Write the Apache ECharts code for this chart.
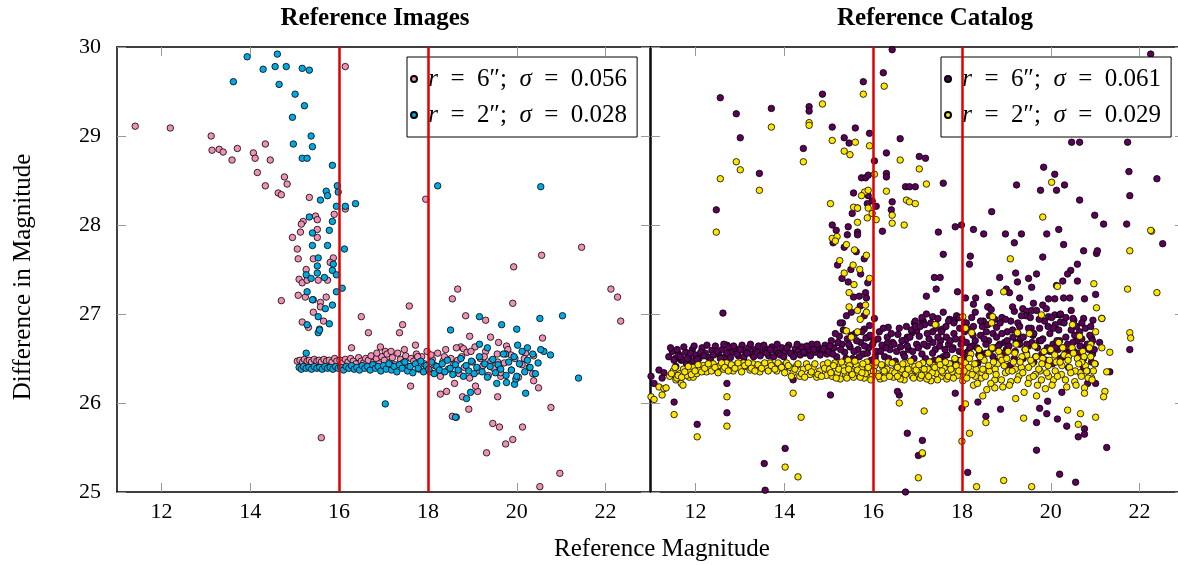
<!DOCTYPE html>
<html lang="en">
<head>
<meta charset="UTF-8">
<title>Magnitude comparison</title>
<script src="https://cdn.jsdelivr.net/npm/echarts@6/dist/echarts.min.js"></script>
<style>
  * {padding: 0; margin: 0;}
  body {background: #fff;}
  #main {width: 1178px; height: 565px;}
</style>
</head>
<body>
<div id="main"></div>
<script>
// tick labels and cut lines
const xTicks = [12, 14, 16, 18, 20, 22];
const cutMags = [16, 18];

// Reference Images, r = 6"
const imgR6 = [
  [11.41,29.11],[12.20,29.09],[13.12,29.00],[13.14,28.84],[13.30,28.85],[13.39,28.82],[13.71,28.86],[13.59,28.73],
  [14.07,28.81],[14.11,28.75],[14.34,28.91],[14.45,28.73],[14.16,28.59],[14.34,28.44],[14.77,28.54],[14.83,28.46],
  [14.63,28.36],[14.70,28.34],[15.33,28.31],[16.14,29.78],[16.14,28.18],[15.89,28.12],[15.47,28.10],[15.51,28.06],
  [15.19,28.04],[15.15,28.01],[15.13,27.92],[15.51,27.95],[15.51,27.86],[14.95,27.86],[15.06,27.73],[15.08,27.62],
  [15.42,27.62],[15.26,27.50],[15.10,27.39],[15.17,27.35],[15.28,27.38],[15.53,27.38],[15.74,27.38],[15.87,27.63],
  [15.80,27.58],[15.08,27.21],[15.24,27.19],[15.42,27.16],[15.58,27.13],[15.71,27.19],[14.70,27.15],[15.58,27.08],
  [15.42,27.02],[15.65,26.92],[15.17,26.91],[15.31,26.85],[15.56,26.83],[15.60,25.61],[16.50,26.97],[16.66,26.79],
  [17.58,27.09],[17.43,26.88],[17.36,26.79],[16.28,26.62],[16.93,26.63],[17.04,26.58],[17.72,26.65],[18.67,27.28],
  [18.55,27.17],[18.85,26.98],[19.30,26.93],[19.93,27.53],[20.56,27.66],[21.46,27.75],[19.91,27.12],[22.12,27.28],
  [22.27,27.19],[22.34,26.92],[19.41,26.74],[19.59,26.68],[19.77,26.64],[18.94,26.75],[18.74,26.63],[18.80,26.61],
  [20.58,26.73],[20.38,26.53],[20.49,26.17],[20.38,26.25],[20.77,25.95],[17.61,26.19],[18.28,26.10],[18.42,26.13],
  [18.60,26.22],[18.55,25.85],[18.64,25.84],[18.78,26.07],[19.12,26.13],[19.07,26.19],[18.92,25.93],[19.57,26.07],
  [19.46,25.77],[19.61,25.73],[19.32,25.44],[19.75,25.54],[19.91,25.59],[20.13,25.73],[20.52,25.06],[20.97,25.21],
  [19.64,26.30],[19.59,26.41],[17.95,28.29],
  [15.06,26.47],[15.12,26.48],[15.18,26.46],[15.22,26.49],[15.28,26.47],[15.33,26.48],[15.38,26.46],[15.44,26.49],
  [15.50,26.47],[15.55,26.48],[15.60,26.46],[15.66,26.49],[15.72,26.47],[15.78,26.48],[15.84,26.46],[15.90,26.50],
  [15.95,26.47],[16.02,26.48],[16.08,26.45],[16.14,26.49],[16.20,26.46],[16.26,26.50],[16.32,26.47],[16.38,26.44],
  [16.44,26.51],[16.50,26.47],[16.55,26.45],[16.60,26.50],[16.66,26.48],[16.72,26.53],[16.78,26.46],[16.84,26.50],
  [16.90,26.44],[16.96,26.52],[17.02,26.48],[17.08,26.55],[17.14,26.46],[17.20,26.51],[17.26,26.43],[17.32,26.56],
  [17.38,26.49],[17.44,26.45],[17.50,26.53],[17.56,26.41],[17.62,26.50],[17.68,26.47],[17.74,26.55],[17.80,26.38],
  [17.86,26.52],[17.92,26.44],[17.98,26.58],[18.04,26.35],[18.10,26.49],[18.16,26.42],[18.22,26.56],[18.28,26.30],
  [18.34,26.47],[18.40,26.60],[18.46,26.38],[18.52,26.50],[18.58,26.43],[18.64,26.62],[18.70,26.33],[18.76,26.52],
  [18.82,26.40],[18.88,26.57],[18.94,26.28],[19.00,26.46],[19.06,26.63],[19.12,26.36],[19.18,26.50],[19.24,26.42],
  [19.30,26.58],[19.36,26.31],[19.42,26.47],[19.48,26.39],[19.56,26.55],[19.64,26.34],[19.72,26.45],[19.80,26.60],
  [19.88,26.37],[19.96,26.50],[20.04,26.29],[20.12,26.43],[20.20,26.56],[20.28,26.40],[20.36,26.33],
  [16.85,26.56],[17.17,26.58],[17.47,26.60],[17.77,26.52],[18.07,26.54],[18.37,26.52],[18.67,26.48],[18.97,26.58],
  [19.27,26.52],[19.57,26.46],[19.87,26.54],[20.17,26.50]
];

// Reference Images, r = 2"
const imgR2 = [
  [13.93,29.89],[14.61,29.92],[14.29,29.75],[14.56,29.78],[14.81,29.78],[15.17,29.76],[15.33,29.74],[13.62,29.61],
  [14.65,29.58],[15.01,29.47],[15.22,29.34],[14.95,29.21],[15.37,29.00],[14.97,28.91],[15.40,28.88],[15.17,28.75],
  [15.28,28.75],[15.85,28.67],[15.96,28.44],[15.98,28.37],[15.71,28.38],[15.74,28.33],[15.58,28.28],[15.94,28.21],
  [16.14,28.21],[16.37,28.24],[15.33,28.09],[15.85,28.04],[15.78,27.94],[15.40,27.91],[15.40,27.77],[15.74,27.77],
  [16.12,27.73],[15.53,27.63],[15.51,27.54],[15.87,27.56],[15.26,27.44],[15.51,27.46],[15.85,27.49],[15.37,27.40],
  [15.67,27.41],[15.94,27.44],[15.28,27.25],[15.40,27.16],[15.94,27.25],[16.07,27.29],[15.69,27.06],[15.85,27.10],
  [15.53,26.97],[15.78,26.89],[15.28,26.88],[15.53,26.79],[15.56,26.82],[17.04,25.99],[15.26,26.56],[18.51,26.82],
  [19.16,26.97],[19.66,26.88],[20.00,26.83],[20.52,26.95],[21.03,26.98],[19.16,26.66],[19.34,26.62],[20.02,26.65],
  [20.24,26.62],[20.61,26.58],[20.76,26.54],[19.75,26.55],[21.39,26.28],[20.20,26.11],[18.62,25.84],[18.87,26.05],
  [18.96,26.12],[19.55,26.22],[19.77,26.23],[19.95,26.21],[19.98,26.27],[18.22,28.44],[20.54,28.43],
  [15.10,26.40],[15.15,26.38],[15.20,26.41],[15.26,26.39],[15.32,26.40],[15.38,26.38],[15.44,26.41],[15.50,26.39],
  [15.56,26.40],[15.62,26.38],[15.68,26.41],[15.74,26.39],[15.80,26.40],[15.86,26.38],[15.92,26.41],[15.98,26.39],
  [16.04,26.40],[16.10,26.37],[16.16,26.41],[16.22,26.39],[16.28,26.42],[16.34,26.38],[16.40,26.40],[16.46,26.37],
  [16.52,26.42],[16.58,26.39],[16.64,26.41],[16.70,26.37],[16.76,26.43],[16.82,26.39],[16.88,26.41],[16.94,26.36],
  [17.00,26.42],[17.06,26.38],[17.12,26.44],[17.18,26.37],[17.24,26.41],[17.30,26.35],[17.36,26.43],[17.42,26.39],
  [17.48,26.46],[17.54,26.36],[17.60,26.41],[17.66,26.34],[17.72,26.44],[17.78,26.39],[17.84,26.47],[17.90,26.35],
  [17.96,26.42],[18.02,26.38],[18.08,26.46],[18.14,26.33],[18.20,26.41],[18.26,26.37],[18.32,26.44],[18.38,26.35],
  [18.44,26.48],[18.50,26.39],[18.56,26.32],[18.62,26.43],[18.68,26.37],[18.74,26.50],[18.80,26.30],[18.86,26.42],
  [18.92,26.36],[18.98,26.47],[19.04,26.33],[19.10,26.40],[19.16,26.52],[19.22,26.35],[19.28,26.44],[19.34,26.29],
  [19.40,26.41],[19.46,26.49],[19.52,26.34],[19.58,26.43],[19.64,26.38],[19.70,26.55],[19.76,26.31],[19.82,26.46],
  [19.88,26.37],[19.94,26.52],[20.00,26.30],[20.06,26.44],[20.12,26.58],[20.18,26.35],[20.24,26.48],[20.30,26.40],
  [20.36,26.55],[20.42,26.33],[20.48,26.45],[20.54,26.60]
];

// Reference Catalog, r = 6": scattered stars
const catR6 = [
  [12.56,29.43],[12.92,29.25],[13.01,28.98],[13.71,29.31],[13.44,28.58],[12.47,28.17],[14.43,28.86],[14.56,29.33],
  [14.56,29.28],[14.86,29.47],[15.08,29.10],[15.35,28.98],[15.46,28.92],[15.60,29.09],[15.78,29.61],[15.92,29.03],
  [16.03,28.72],[16.23,29.71],[16.43,29.97],[16.61,28.97],[16.30,28.81],[15.74,28.53],[15.83,28.53],[15.89,28.56],
  [16.30,28.58],[16.30,28.54],[15.56,28.36],[15.89,28.33],[15.98,28.27],[15.87,28.24],[16.07,28.21],[15.65,28.19],
  [15.53,28.13],[16.43,28.26],[16.41,28.17],[16.73,28.43],[16.82,28.43],[16.95,28.43],[17.04,28.77],[17.18,28.75],
  [17.58,28.47],[17.47,27.92],[16.21,27.93],[15.08,28.00],[15.17,27.94],[15.44,27.98],[15.42,27.89],[15.65,27.92],
  [15.65,27.89],[22.25,29.92],[17.85,27.98],[17.99,28.00],[18.26,27.95],[18.49,27.90],[18.67,28.15],[18.98,27.90],
  [19.34,27.90],[19.23,28.45],[19.84,28.65],[20.09,28.57],[19.77,28.39],[20.13,28.39],[20.31,28.45],[19.91,27.90],
  [20.18,27.95],[20.65,28.28],[20.47,28.93],[20.65,28.93],[21.73,28.93],[21.76,28.60],[21.78,28.33],[22.39,28.52],
  [20.99,28.11],[21.19,28.01],[21.71,28.01],
  [11.00,26.30],[11.07,26.22],[11.18,26.37],[11.29,26.34],[11.25,26.28],[11.56,26.41],[11.68,26.48],[11.79,26.45],
  [11.90,26.46],[11.95,26.47],[11.52,26.01],[12.04,25.76],[12.62,27.01],[12.71,26.65],[12.71,26.22],[12.71,25.89],
  [13.55,25.32],[14.02,25.49],[13.57,25.02],[14.20,26.26],[15.04,26.09],[15.44,27.36],[15.56,27.19],[15.69,27.20],
  [15.83,27.24],[15.85,27.18],[15.40,26.98],[15.51,27.02],[15.31,26.90],[15.26,26.90],[15.71,27.09],[15.80,26.98],
  [15.92,26.87],[15.80,26.83],[16.03,26.95],[15.89,26.74],[16.34,26.85],[16.75,26.86],[16.93,26.90],[16.98,26.81],
  [17.11,26.92],[17.34,26.97],[17.20,27.20],[17.42,27.28],[17.56,26.83],[16.59,26.09],[16.55,26.13],[16.77,25.66],
  [17.11,25.58],[17.02,25.41],[16.73,25.00],[16.32,26.67],[16.77,26.74],[16.88,26.79],
  [15.10,27.80],[15.35,27.75],[15.62,27.70],[15.80,27.62],[15.20,27.55],[15.50,27.50],[15.72,27.45],[15.30,27.40],[15.88,27.35],
  [19.18,27.80],[20.29,27.78],[20.74,27.71],[21.03,27.68],[21.05,27.71],[22.52,27.79],[17.58,27.67],[18.19,27.65],
  [18.17,27.56],[19.82,27.64],[20.60,27.56],[20.45,27.49],[20.38,27.45],[20.27,27.37],[20.13,27.32],[20.60,27.37],
  [17.38,27.41],[17.51,27.41],[18.85,27.41],[19.21,27.46],[19.25,27.36],[19.50,27.40],[19.68,27.45],[17.90,27.25],
  [18.08,27.18],[18.31,27.18],[18.26,27.11],[18.62,27.24],[18.60,27.08],[19.00,27.28],[19.07,27.24],[19.30,27.18],
  [19.57,27.30],[19.61,27.12],[19.82,27.10],[19.95,27.17],[20.09,27.17],[20.29,27.18],[20.43,27.18],[20.76,27.17],
  [21.01,27.22],[19.37,27.06],[19.46,27.03],[19.57,27.04],[19.95,26.97],[20.09,26.99],[19.18,27.03],[18.58,27.08],
  [20.52,26.93],[20.74,26.95],[20.95,26.93],[21.15,26.95],[20.22,26.91],[20.20,26.99],[16.95,26.92],[17.13,26.92],
  [17.72,26.94],[17.85,26.94],[20.92,26.73],[20.90,26.66],[21.10,26.68],[20.92,26.46],[20.74,26.40],[21.33,26.35],
  [21.78,26.60],[20.83,26.22],[21.01,26.22],[20.25,26.12],[19.93,26.02],[19.75,25.94],[19.91,25.88],[19.68,25.78],
  [20.15,25.82],[20.36,25.74],[20.62,25.62],[20.76,25.71],[20.76,25.65],[21.26,25.50],[19.68,25.47],[20.20,25.20],
  [20.56,25.11],[18.00,25.94],[18.36,26.01],[18.54,25.85],[18.87,25.93],[17.85,26.11],[18.13,25.22]
];

// Reference Catalog, r = 6": the dense locus
const catR6Band = [
  [11.40,26.52],[11.48,26.58],[11.55,26.50],[11.62,26.55],[11.70,26.49],[11.78,26.57],[11.85,26.52],[11.93,26.60],
  [12.00,26.54],[12.08,26.50],[12.15,26.62],[12.22,26.56],[12.30,26.51],[12.37,26.59],[12.45,26.64],[12.52,26.55],
  [12.60,26.60],[12.67,26.52],[12.75,26.63],[12.82,26.57],[12.90,26.61],[12.97,26.53],[13.05,26.65],[13.12,26.58],
  [13.20,26.62],[13.27,26.55],[13.35,26.60],[13.42,26.64],[13.50,26.57],[13.57,26.61],[13.65,26.53],[13.72,26.63],
  [13.80,26.59],[13.87,26.56],[13.95,26.62],[14.02,26.58],[14.10,26.65],[14.17,26.55],[14.25,26.61],[14.32,26.58],
  [14.40,26.63],[14.47,26.56],[14.55,26.60],[14.62,26.66],[14.70,26.57],[14.77,26.62],[14.85,26.59],[14.92,26.65],
  [11.44,26.62],[11.52,26.48],[11.59,26.60],[11.66,26.52],[11.74,26.63],[11.82,26.50],[11.89,26.56],[11.97,26.64],
  [12.04,26.49],[12.12,26.57],[12.19,26.53],[12.26,26.65],[12.34,26.48],[12.41,26.54],[12.49,26.58],[12.56,26.50],
  [12.64,26.66],[12.71,26.56],[12.79,26.51],[12.86,26.64],[12.94,26.55],[13.01,26.60],[13.09,26.51],[13.16,26.56],
  [13.24,26.66],[13.31,26.52],[13.39,26.57],[13.46,26.53],[13.54,26.65],[13.61,26.56],[13.69,26.60],[13.76,26.52],
  [13.84,26.66],[13.91,26.54],[13.99,26.52],[14.06,26.62],[14.14,26.56],[14.21,26.52],[14.29,26.66],[14.36,26.54],
  [14.44,26.57],[14.51,26.64],[14.59,26.53],[14.66,26.60],[14.74,26.66],[14.81,26.54],[14.89,26.61],[14.96,26.55],
  [15.00,26.58],[15.06,26.70],[15.12,26.62],[15.18,26.52],[15.24,26.75],[15.30,26.66],[15.36,26.57],[15.42,26.72],
  [15.48,26.63],[15.54,26.50],[15.60,26.78],[15.66,26.60],[15.72,26.68],[15.78,26.55],[15.84,26.73],[15.90,26.62],
  [15.96,26.48],[16.02,26.70],[16.08,26.58],[16.14,26.80],[16.20,26.65],[16.26,26.52],[16.32,26.74],[16.38,26.60],
  [16.44,26.68],[16.50,26.47],[16.56,26.77],[16.62,26.63],[16.68,26.55],[16.74,26.71],[16.80,26.60],[16.86,26.82],
  [16.92,26.50],[16.98,26.66],
  [15.03,26.64],[15.09,26.55],[15.15,26.78],[15.21,26.68],[15.27,26.60],[15.33,26.82],[15.39,26.50],[15.45,26.66],
  [15.51,26.76],[15.57,26.58],[15.63,26.70],[15.69,26.52],[15.75,26.80],[15.81,26.64],[15.87,26.56],[15.93,26.76],
  [15.99,26.66],[16.05,26.52],[16.11,26.72],[16.17,26.58],[16.23,26.84],[16.29,26.62],[16.35,26.50],[16.41,26.78],
  [16.47,26.66],[16.53,26.58],[16.59,26.84],[16.65,26.70],[16.71,26.52],[16.77,26.64],[16.83,26.74],[16.89,26.58],
  [16.95,26.86],
  [17.04,26.75],[17.10,26.55],[17.16,26.88],[17.22,26.64],[17.28,26.46],[17.34,26.80],[17.40,26.60],[17.46,26.95],
  [17.52,26.70],[17.58,26.52],[17.64,26.86],[17.70,26.66],[17.76,26.44],[17.82,26.78],[17.88,26.98],[17.94,26.58],
  [18.00,26.72],[18.06,26.90],[18.12,26.50],[18.18,26.83],[18.24,26.64],[18.30,27.02],[18.36,26.45],[18.42,26.76],
  [18.48,26.92],[18.54,26.56],[18.60,26.70],[18.66,27.05],[18.72,26.62],[18.78,26.85],[18.84,26.48],[18.90,26.96],
  [18.96,26.68],[19.02,26.80],[19.08,26.42],[19.14,27.08],[19.20,26.58],[19.26,26.90],[19.32,26.72],[19.38,26.50],
  [19.44,26.98],[19.50,26.64],[19.56,26.84],[19.62,26.46],[19.68,27.04],[19.74,26.70],[19.80,26.55],[19.86,26.92],
  [19.92,26.62],[19.98,26.78],[20.04,26.44],[20.10,26.88],[20.16,26.60],[20.22,27.00],[20.28,26.52],[20.34,26.74],
  [20.40,26.40],[20.46,26.82],[20.52,26.58],[20.58,26.70],[20.64,26.48],[20.70,26.90],[20.76,26.62],[20.82,26.36],
  [20.88,26.76],[20.94,26.55],[21.00,26.44],
  [17.20,27.00],[17.50,26.50],[17.80,26.62],[18.10,26.68],[18.40,26.58],[18.70,26.78],[19.00,26.60],[19.30,26.66],
  [19.60,26.76],[19.90,26.48],[20.20,26.70],[20.50,26.95],[17.35,26.68],[17.65,26.74],[17.95,26.84],[18.25,26.76],
  [18.55,26.80],[18.85,26.66],[19.15,26.74],[19.45,26.56],[19.75,26.84],[20.05,26.66],[20.35,26.58],[20.65,26.80],
  [17.02,26.62],[17.10,26.96],[17.18,26.50],[17.26,26.72],[17.34,26.56],[17.42,26.84],[17.50,26.64],[17.58,27.02],
  [17.66,26.54],[17.74,26.70],[17.82,26.90],[17.90,26.48],[17.98,26.66],[18.06,26.80],[18.14,26.58],[18.22,26.96],
  [18.30,26.70],[18.38,26.54],[18.46,26.86],[18.54,26.66],[18.62,26.98],[18.70,26.52],[18.78,26.74],[18.86,26.90],
  [18.94,26.56],[19.02,26.70],[19.10,26.92],[19.18,26.50],[19.26,26.78],[19.34,26.98],[19.42,26.60],[19.50,26.84],
  [19.58,26.68],[19.66,26.52],[19.74,26.94],[19.82,26.72],[19.90,27.06],[19.98,26.58],[20.06,26.84],[20.14,26.70],
  [20.22,26.50],[20.30,26.90],[20.38,26.66],[20.46,27.04],[20.54,26.76],[20.62,26.56],[20.70,26.72],[20.78,26.84],
  [20.86,26.60],[20.94,26.70],
  [17.06,26.86],[17.14,26.66],[17.22,26.78],[17.30,26.90],[17.38,26.48],[17.46,26.74],[17.54,26.80],[17.62,26.60],
  [17.70,26.92],[17.78,26.60],[17.86,26.72],[17.94,26.96],[18.02,26.56],[18.10,26.90],[18.18,26.62],[18.26,26.86],
  [18.34,26.62],[18.42,26.92],[18.50,26.72],[18.58,26.88],[18.66,26.60],[18.74,26.94],[18.82,26.64],[18.90,26.78],
  [18.98,26.94],[19.06,26.64],[19.14,26.82],[19.22,26.68],[19.30,26.86],[19.38,26.74],[19.46,26.66],[19.54,26.96],
  [19.62,26.78],[19.70,26.62],[19.78,26.70],[19.86,26.58],[19.94,26.86],[20.02,26.96],[20.10,26.62],[20.18,26.82],
  [20.26,26.62],[20.34,26.96],[20.42,26.56],[20.50,26.68],[20.58,26.86],[20.66,26.64],[20.74,26.50],[20.82,26.66],
  [20.90,26.86],[20.98,26.60]
];

// Reference Catalog, r = 2": scattered stars
const catR2 = [
  [12.56,28.52],[12.47,27.92],[12.92,28.71],[13.01,28.62],[13.44,28.39],[13.71,29.10],[14.43,28.71],[14.56,29.15],
  [14.56,29.12],[14.86,29.36],[15.08,28.95],[15.35,28.83],[15.48,28.79],[15.60,28.93],[15.78,29.47],[15.92,28.89],
  [16.25,29.56],[16.03,28.57],[16.61,28.73],[17.04,28.63],[17.20,28.46],[16.75,28.28],[16.82,28.26],[16.95,28.24],
  [16.70,28.00],[16.30,28.38],[16.43,28.11],[16.43,28.02],[15.81,28.37],[15.89,28.39],[15.74,28.33],[15.56,28.20],
  [15.65,28.19],[15.89,28.19],[15.98,28.13],[15.04,28.24],[15.65,28.03],[15.87,28.08],[16.07,28.06],[15.08,27.85],
  [15.19,27.87],[20.02,28.48],[19.82,28.09],[22.27,27.93],
  [15.15,27.82],[15.40,27.78],[15.58,27.72],[15.85,27.66],[15.25,27.60],[15.55,27.55],[15.70,27.50],[15.35,27.46],[15.92,27.40],
  [11.00,26.07],[11.07,26.04],[11.18,26.18],[11.29,26.16],[11.34,26.17],[11.25,26.09],[11.52,25.87],[11.56,26.26],
  [11.68,26.22],[11.72,26.20],[11.86,26.29],[11.95,26.29],[12.04,25.62],[12.71,26.07],[12.71,25.74],[14.02,25.28],
  [14.31,25.17],[14.20,26.11],[14.38,25.84],[15.46,27.24],[15.57,27.33],[15.46,27.08],[15.65,27.04],[15.71,26.94],
  [15.85,27.02],[15.83,27.10],[15.40,26.81],[15.65,26.80],[15.51,26.74],[16.59,26.00],[17.15,25.91],[17.11,25.43],
  [17.02,25.16],[17.42,26.88],
  [22.25,27.94],[21.78,27.71],[19.09,27.62],[20.97,27.34],[20.15,27.31],[18.94,27.25],[21.73,27.28],[22.39,27.24],
  [21.03,27.07],[18.69,26.97],[18.67,26.90],[19.79,26.99],[17.40,26.88],[18.22,26.79],[18.02,26.97],[18.08,26.84],
  [19.52,26.78],[19.25,26.79],[20.49,26.88],[20.65,26.75],[21.01,26.80],[21.15,26.95],[21.33,26.57],[21.78,26.79],
  [21.80,26.73],[20.90,26.66],[21.15,26.62],[21.26,26.35],[20.92,26.28],[21.22,26.13],[21.19,26.07],[20.76,26.17],
  [20.76,26.11],[20.38,25.92],[20.67,25.88],[20.62,25.76],[21.01,25.84],[19.39,25.83],[18.54,25.78],[18.17,25.66],
  [18.00,25.57],[17.11,25.44],[18.33,25.06],[18.94,25.13],[19.57,25.06],[18.47,26.08],[18.74,26.17],[19.21,26.05],
  [19.68,26.08],[18.08,25.99]
];

// Reference Catalog, r = 2": the dense locus
const catR2Band = [
  [11.42,26.30],[11.50,26.36],[11.58,26.28],[11.65,26.33],[11.73,26.38],[11.80,26.31],[11.88,26.36],[11.95,26.40],
  [12.03,26.33],[12.10,26.38],[12.18,26.42],[12.25,26.35],[12.33,26.40],[12.40,26.44],[12.48,26.37],[12.55,26.42],
  [12.63,26.38],[12.70,26.45],[12.78,26.40],[12.85,26.36],[12.93,26.43],[13.00,26.39],[13.08,26.45],[13.15,26.41],
  [13.23,26.37],[13.30,26.44],[13.38,26.40],[13.45,26.35],[13.53,26.43],[13.60,26.39],[13.68,26.45],[13.75,26.41],
  [13.83,26.36],[13.90,26.43],[13.98,26.38],[14.05,26.45],[14.13,26.40],[14.20,26.34],[14.28,26.42],[14.35,26.30],
  [14.43,26.38],[14.50,26.44],[14.58,26.32],[14.65,26.40],[14.73,26.29],[14.80,26.36],[14.88,26.43],[14.95,26.31],
  [11.46,26.33],[11.54,26.40],[11.61,26.31],[11.69,26.29],[11.76,26.35],[11.84,26.41],[11.91,26.32],[11.99,26.36],
  [12.06,26.43],[12.14,26.35],[12.21,26.39],[12.29,26.44],[12.36,26.36],[12.44,26.40],[12.51,26.34],[12.59,26.45],
  [12.66,26.40],[12.74,26.36],[12.81,26.43],[12.89,26.39],[12.96,26.45],[13.04,26.35],[13.11,26.42],[13.19,26.45],
  [13.26,26.39],[13.34,26.36],[13.41,26.43],[13.49,26.39],[13.56,26.45],[13.64,26.36],[13.71,26.42],[13.79,26.38],
  [13.86,26.45],[13.94,26.40],[14.01,26.34],[14.09,26.42],[14.16,26.30],[14.24,26.38],[14.31,26.44],[14.39,26.33],
  [14.46,26.29],[14.54,26.40],[14.61,26.35],[14.69,26.44],[14.76,26.32],[14.84,26.30],[14.91,26.39],[14.98,26.45],
  [15.02,26.38],[15.08,26.30],[15.14,26.45],[15.20,26.34],[15.26,26.27],[15.32,26.41],[15.38,26.32],[15.44,26.48],
  [15.50,26.36],[15.56,26.29],[15.62,26.43],[15.68,26.33],[15.74,26.39],[15.80,26.28],[15.86,26.46],[15.92,26.35],
  [15.98,26.30],[16.04,26.42],[16.10,26.33],[16.16,26.27],[16.22,26.40],[16.28,26.31],[16.34,26.46],[16.40,26.36],
  [16.46,26.29],[16.52,26.42],[16.58,26.33],[16.64,26.38],[16.70,26.26],[16.76,26.44],[16.82,26.34],[16.88,26.30],
  [16.94,26.41],[17.00,26.35],[17.06,26.28],[17.12,26.45],[17.18,26.32],[17.24,26.38],[17.30,26.25],[17.36,26.42],
  [17.42,26.33],[17.48,26.48],[17.54,26.30],[17.60,26.39],[17.66,26.27],[17.72,26.44],[17.78,26.35],[17.84,26.50],
  [17.90,26.31],[17.96,26.40],
  [15.05,26.34],[15.11,26.42],[15.17,26.28],[15.23,26.38],[15.29,26.46],[15.35,26.36],[15.41,26.28],[15.47,26.42],
  [15.53,26.32],[15.59,26.47],[15.65,26.37],[15.71,26.29],[15.77,26.44],[15.83,26.33],[15.89,26.40],[15.95,26.26],
  [16.01,26.36],[16.07,26.46],[16.13,26.30],[16.19,26.43],[16.25,26.28],[16.31,26.38],[16.37,26.30],[16.43,26.45],
  [16.49,26.34],[16.55,26.40],[16.61,26.27],[16.67,26.44],[16.73,26.32],[16.79,26.38],[16.85,26.47],[16.91,26.28],
  [16.97,26.37],[17.03,26.43],[17.09,26.31],[17.15,26.38],[17.21,26.27],[17.27,26.46],[17.33,26.34],[17.39,26.40],
  [17.45,26.26],[17.51,26.43],[17.57,26.34],[17.63,26.46],[17.69,26.30],[17.75,26.38],[17.81,26.28],[17.87,26.42],
  [17.93,26.36],[17.99,26.48],
  [18.02,26.25],[18.08,26.45],[18.14,26.33],[18.20,26.55],[18.26,26.20],[18.32,26.38],[18.38,26.60],[18.44,26.28],
  [18.50,26.48],[18.56,26.15],[18.62,26.36],[18.68,26.62],[18.74,26.26],[18.80,26.44],[18.86,26.52],[18.92,26.18],
  [18.98,26.34],[19.04,26.58],[19.10,26.24],[19.16,26.46],[19.22,26.66],[19.28,26.30],[19.34,26.40],[19.40,26.12],
  [19.46,26.54],[19.52,26.28],[19.58,26.44],[19.64,26.64],[19.70,26.20],[19.76,26.36],[19.82,26.50],[19.88,26.16],
  [19.94,26.42],[20.00,26.60],[20.06,26.26],[20.12,26.46],[20.18,26.68],[20.24,26.32],[20.30,26.54],[20.36,26.18],
  [20.42,26.40],[20.48,26.62],[20.54,26.24],[20.60,26.50],[20.66,26.34],[20.72,26.58],[20.78,26.42],[20.84,26.28],
  [20.90,26.52],[20.96,26.36],
  [18.15,26.40],[18.45,26.34],[18.75,26.38],[19.05,26.36],[19.35,26.52],[19.65,26.32],[19.95,26.30],[20.25,26.42],
  [20.55,26.36],[18.30,26.30],[18.60,26.42],[18.90,26.48],[19.20,26.38],[19.50,26.40],[19.80,26.44],[20.10,26.36],
  [20.40,26.52],[20.70,26.46],[17.25,26.30],[17.55,26.36],[16.25,26.36],[16.55,26.30],[15.75,26.34],[15.45,26.38],
  [18.05,26.36],[18.11,26.28],[18.17,26.50],[18.23,26.32],[18.29,26.44],[18.35,26.22],[18.41,26.52],[18.47,26.38],
  [18.53,26.30],[18.59,26.56],[18.65,26.22],[18.71,26.46],[18.77,26.32],[18.83,26.58],[18.89,26.26],[18.95,26.42],
  [19.01,26.50],[19.07,26.20],[19.13,26.36],[19.19,26.56],[19.25,26.26],[19.31,26.46],[19.37,26.34],[19.43,26.60],
  [19.49,26.22],[19.55,26.48],[19.61,26.30],[19.67,26.52],[19.73,26.38],[19.79,26.26],[19.85,26.58],[19.91,26.34],
  [19.97,26.48],[20.03,26.20],[20.09,26.54],[20.15,26.30],[20.21,26.46],[20.27,26.62],[20.33,26.26],[20.39,26.48],
  [20.45,26.34],[20.51,26.56],[20.57,26.20],[20.63,26.44],[20.69,26.30],[20.75,26.52],[20.81,26.36],[20.87,26.62],
  [20.93,26.26],[20.99,26.44]
];

const serif = '"Liberation Serif", "DejaVu Serif", serif';

const chart = echarts.init(document.getElementById('main'));

function xAxesFor(g) {
    const base = {
        gridIndex: g, type: 'value', min: 11, max: 23,
        axisLine: {show: true, onZero: false, lineStyle: {color: '#000', width: 1.5}},
        axisTick: {show: true, inside: true, length: 9, customValues: xTicks, lineStyle: {color: '#999', width: 1}},
        splitLine: {show: false}
    };
    return [
        Object.assign({}, base, {position: 'bottom',
            axisLabel: {customValues: xTicks, color: '#000', fontFamily: serif, fontSize: 22, margin: 9}}),
        Object.assign({}, base, {position: 'top', axisLabel: {show: false}})
    ];
}

function yAxesFor(g, labels) {
    const base = {
        gridIndex: g, type: 'value', min: 25, max: 30, interval: 1,
        axisLine: {show: true, onZero: false, lineStyle: {color: '#000', width: 1.5}},
        axisTick: {show: true, inside: true, length: 9, lineStyle: {color: '#999', width: 1}},
        splitLine: {show: false}
    };
    return [
        Object.assign({}, base, {position: 'left',
            axisLabel: {show: labels, color: '#000', fontFamily: serif, fontSize: 22, margin: 16}}),
        Object.assign({}, base, {position: 'right', axisLabel: {show: false}})
    ];
}

function dots(name, data, color, axisIdx, withCuts) {
    const s = {
        name: name, type: 'scatter', data: data,
        xAxisIndex: axisIdx, yAxisIndex: axisIdx,
        symbol: 'circle', symbolSize: 6.5,
        itemStyle: {color: color, borderColor: '#000', borderWidth: 0.8, opacity: 1},
        emphasis: {disabled: true}
    };
    if (withCuts) {
        s.markLine = {
            silent: true, symbol: 'none', animation: false,
            label: {show: false},
            lineStyle: {color: '#e00000', width: 2.5, type: 'solid'},
            data: cutMags.map(m => ({xAxis: m}))
        };
    }
    return s;
}

// wide spaces, like TeX math spacing around = and after ;
const legendText = n => ' ' + n.replace(/ /g, '\u2002').replace(/^r/, '{i|r}').replace('σ', '{i|σ}');
const legendBox = {
    orient: 'vertical', top: 57, itemGap: 2,
    padding: [5, 10, 5, 3],
    backgroundColor: '#fff', borderColor: '#000', borderWidth: 1,
    icon: 'circle', itemWidth: 6, itemHeight: 6,
    formatter: legendText,
    textStyle: {
        color: '#000', fontFamily: serif, fontSize: 25, lineHeight: 34,
        rich: {i: {fontStyle: 'italic', fontFamily: serif, fontSize: 25}}
    }
};

const n1 = 'r = 6″; σ = 0.056', n2 = 'r = 2″; σ = 0.028';
const n3 = 'r = 6″; σ = 0.061', n4 = 'r = 2″; σ = 0.029';

chart.setOption({
    animation: false,
    grid: [
        {left: 117, top: 47, width: 533, height: 445, show: false, outerBoundsMode: 'none'},
        {left: 651, top: 47, width: 533, height: 445, show: false, outerBoundsMode: 'none'}
    ],
    xAxis: xAxesFor(0).concat(xAxesFor(1)),
    yAxis: yAxesFor(0, true).concat(yAxesFor(1, false)),
    legend: [
        Object.assign({}, legendBox, {left: 407, data: [n1, n2]}),
        Object.assign({}, legendBox, {left: 941, data: [n3, n4]})
    ],
    series: [
        dots(n1, imgR6, '#f090b5', 0, false),
        dots(n2, imgR2, '#00a9e2', 0, true),
        dots(n3, catR6.concat(catR6Band), '#5c0059', 2, false),
        dots(n4, catR2.concat(catR2Band), '#ffe600', 2, true)
    ],
    graphic: [
        {type: 'text', x: 375, y: 19, style: {text: 'Reference Images', fontFamily: serif, fontWeight: 'bold',
            fontSize: 25, fill: '#000', textAlign: 'center', textVerticalAlign: 'middle'}},
        {type: 'text', x: 935, y: 19, style: {text: 'Reference Catalog', fontFamily: serif, fontWeight: 'bold',
            fontSize: 25, fill: '#000', textAlign: 'center', textVerticalAlign: 'middle'}},
        {type: 'text', x: 662, y: 549, style: {text: 'Reference Magnitude', fontFamily: serif,
            fontSize: 25, fill: '#000', textAlign: 'center', textVerticalAlign: 'middle'}},
        {type: 'text', x: 23, y: 277, rotation: Math.PI / 2, style: {text: 'Difference in Magnitude', fontFamily: serif,
            fontSize: 25, fill: '#000', textAlign: 'center', textVerticalAlign: 'middle'}}
    ]
});
</script>
</body>
</html>
